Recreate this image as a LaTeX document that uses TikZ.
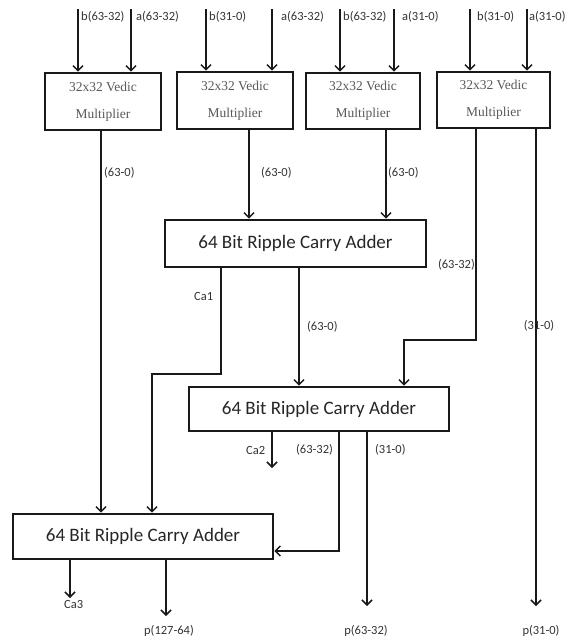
\documentclass[tikz,border=0pt]{standalone}
\usepackage{fontspec}
\setmainfont{Carlito}
\newfontfamily\serifx{Liberation Serif}
\usetikzlibrary{arrows.meta,calc}
\begin{document}
\begin{tikzpicture}[x=1pt,y=-1pt,
  box/.style={draw=black!90,line width=2.6pt,inner sep=0pt,fill=white},
  mult/.style={box,align=center,font=\serifx\fontsize{13.5}{27}\selectfont,text=black!65},
  adder/.style={box,font=\fontsize{19}{22}\selectfont,text=black!85},
  arr/.style={line width=1.6pt,draw=black!90,-{Straight Barb[length=5pt,width=10pt,line width=1.5pt]}},
  wire/.style={line width=1.6pt,draw=black!90},
  lbl/.style={font=\fontsize{12.5}{14}\selectfont,text=black!80,inner sep=0pt}]
\useasboundingbox[fill=white] (0,0) rectangle (569,640);

% multipliers
\node[mult,minimum width=116pt,minimum height=57pt] (m1) at (103,101.5) {32x32 Vedic\\Multiplier};
\node[mult,minimum width=116pt,minimum height=57pt] (m2) at (235,100.5) {32x32 Vedic\\Multiplier};
\node[mult,minimum width=114pt,minimum height=56pt] (m3) at (363,101) {32x32 Vedic\\Multiplier};
\node[mult,minimum width=113pt,minimum height=56pt] (m4) at (493.5,100) {32x32 Vedic\\Multiplier};

% adders
\node[adder,minimum width=261pt,minimum height=47pt] (a1) at (295.5,243.5) {64 Bit Ripple Carry Adder};
\node[adder,minimum width=260pt,minimum height=44pt] (a2) at (319,409) {64 Bit Ripple Carry Adder};
\node[adder,minimum width=260pt,minimum height=45pt] (a3) at (143,536.5) {64 Bit Ripple Carry Adder};

% input coordinates
\coordinate (i1b) at (78,9);
\coordinate (i1a) at (131,9);
\coordinate (i2b) at (206,9);
\coordinate (i2a) at (272,9);
\coordinate (i3b) at (340,9);
\coordinate (i3a) at (394,9);
\coordinate (i4b) at (470,9);
\coordinate (i4a) at (527,9);

\draw[arr] (i1b) -- (i1b |- m1.north);
\draw[arr] (i1a) -- (i1a |- m1.north);
\draw[arr] (i2b) -- (i2b |- m2.north);
\draw[arr] (i2a) -- (i2a |- m2.north);
\draw[arr] (i3b) -- (i3b |- m3.north);
\draw[arr] (i3a) -- (i3a |- m3.north);
\draw[arr] (i4b) -- (i4b |- m4.north);
\draw[arr] (i4a) -- (i4a |- m4.north);

\node[lbl,anchor=west] (l1b) at (81,17) {b(63-32)};
\node[lbl,anchor=west] (l1a) at (136,17) {a(63-32)};
\node[lbl,anchor=west] (l2b) at (209,17) {b(31-0)};
\node[lbl,anchor=west] (l2a) at (281,17) {a(63-32)};
\node[lbl,anchor=west] (l3b) at (343,17) {b(63-32)};
\node[lbl,anchor=west] (l3a) at (402,17) {a(31-0)};
\node[lbl,anchor=west] (l4b) at (477,17) {b(31-0)};
\node[lbl,anchor=west] (l4a) at (529,17) {a(31-0)};

% multiplier outputs
\coordinate (m4j) at (476,340);
\coordinate (m4k) at (404,340);
\coordinate (p0) at (536,606);
\draw[arr] ([xshift=-2pt]m1.south) -- ([xshift=-2pt]m1.south |- a3.north);
\draw[arr] ([xshift=14pt]m2.south) -- ([xshift=14pt]m2.south |- a1.north);
\draw[arr] ([xshift=23pt]m3.south) -- ([xshift=23pt]m3.south |- a1.north);
\draw[arr] ([xshift=-17.5pt]m4.south) -- (m4j) -- (m4k) -- (m4k |- a2.north);
\draw[arr] ([xshift=42.5pt]m4.south) -- (p0);

\node[lbl,anchor=west] (o1) at (104,173) {(63-0)};
\node[lbl,anchor=west] (o2) at (261,173) {(63-0)};
\node[lbl,anchor=west] (o3) at (388,173) {(63-0)};
\node[lbl,anchor=east] (o4) at (475,265) {(63-32)};
\node[lbl] (o5) at (539,326) {(31-0)};

% adder 1 outputs
\coordinate (c1j) at (221,374);
\coordinate (c1k) at (152,374);
\draw[arr] ([xshift=-74.5pt]a1.south) -- (c1j) -- (c1k) -- (c1k |- a3.north);
\draw[arr] ([xshift=3.5pt]a1.south) -- ([xshift=3.5pt]a1.south |- a2.north);
\node[lbl,anchor=west] (ca1) at (194,296) {Ca1};
\node[lbl,anchor=west] (s1) at (307,327) {(63-0)};

% adder 2 outputs
\coordinate (ca2e) at (272,468);
\coordinate (hj) at (339,551);
\coordinate (p1) at (367,606);
\draw[arr] ([xshift=-47pt]a2.south) -- (ca2e);
\draw[arr] ([xshift=20pt]a2.south) -- (hj) -- (hj -| a3.east);
\draw[arr] ([xshift=48pt]a2.south) -- (p1);
\node[lbl,anchor=west] (ca2) at (246,450) {Ca2};
\node[lbl,anchor=west] (s2) at (296,450) {(63-32)};
\node[lbl,anchor=west] (s3) at (375,450) {(31-0)};

% adder 3 outputs
\coordinate (ca3e) at (70,598);
\coordinate (p2) at (166,616);
\draw[arr] ([xshift=-73pt]a3.south) -- (ca3e);
\draw[arr] ([xshift=23pt]a3.south) -- (p2);
\node[lbl,anchor=west] (ca3) at (64,604) {Ca3};

% final outputs
\node[lbl] (q2) at (169,631) {p(127-64)};
\node[lbl] (q1) at (366,631) {p(63-32)};
\node[lbl] (q0) at (541,631) {p(31-0)};
\end{tikzpicture}
\end{document}
